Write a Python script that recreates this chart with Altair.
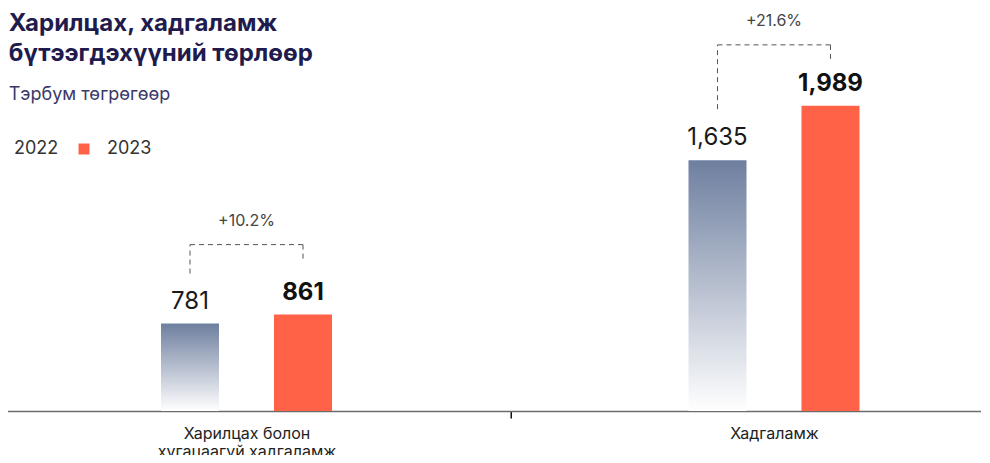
import altair as alt
import pandas as pd

categories = ["Харилцах болон\nхугацаагүй хадгаламж", "Хадгаламж"]
years = ["2022", "2023"]
values_2022 = [781, 1635]
values_2023 = [861, 1989]
growth_labels = ["+10.2%", "+21.6%"]

rows = []
for i, c in enumerate(categories):
    rows.append({"category": c, "year": years[0], "value": values_2022[i], "growth": growth_labels[i]})
    rows.append({"category": c, "year": years[1], "value": values_2023[i], "growth": growth_labels[i]})
df = pd.DataFrame(rows)

FONT = "Inter"
C2022 = "#7282a1"
C2023 = "#ff6246"
gradient = alt.Gradient(
    gradient="linear",
    stops=[alt.GradientStop(color="#6e7f9f", offset=0), alt.GradientStop(color="#ffffff", offset=1)],
    x1=0, x2=0, y1=0, y2=1,
)

x_scale = alt.Scale(domain=categories, paddingInner=0.4616, paddingOuter=0.2308)
xo_scale = alt.Scale(domain=years, paddingInner=0.4867, paddingOuter=0.5)
x_axis = alt.Axis(
    title=None, labelAngle=0, labelExpr="split(datum.label, '\\n')", orient="bottom",
    labelFontSize=16, labelColor="#222222", labelFont=FONT, labelLineHeight=18,
    labelBaseline="middle", labelPadding=15, labelLimit=0, tickSize=7, tickColor="#111111",
    tickWidth=1.5, tickOffset=-263.75, labelOffset=263.75, grid=False,
    domainColor="#6b6b6b", domainWidth=1.5, labelOverlap=False, labelBound=False,
)


def group(idx, dmax, top_off, right_off, left_off, legend=False):
    base = alt.Chart(df).transform_filter(alt.datum.category == categories[idx]).transform_joinaggregate(
        vmax="max(value)", groupby=["category"]
    )
    X = alt.X("category:N", scale=x_scale, axis=x_axis)
    XO = alt.XOffset("year:N", scale=xo_scale)
    Y = alt.Y("value:Q", scale=alt.Scale(domain=[0, dmax]), axis=None)
    b22 = base.transform_filter(alt.datum.year == "2022")
    b23 = base.transform_filter(alt.datum.year == "2023")
    dash = dict(strokeDash=[5, 4], color="#555555", strokeWidth=1)
    layers = [
        b22.mark_bar(color=gradient).encode(x=X, xOffset=XO, y=Y),
        b23.mark_bar(color=C2023).encode(x=X, xOffset=XO, y=Y),
        b22.mark_text(dy=-15, fontSize=24, font=FONT, color="#1a1a1a", baseline="alphabetic").encode(
            x=X, xOffset=XO, y=Y, text=alt.Text("value:Q", format=",")),
        b23.mark_text(dy=-15, fontSize=24, font=FONT, fontWeight="bold", color="#111111", baseline="alphabetic").encode(
            x=X, xOffset=XO, y=Y, text=alt.Text("value:Q", format=",")),
        b22.mark_rule(yOffset=left_off, y2Offset=top_off, **dash).encode(
            x=X, xOffset=XO, y=Y, y2="vmax:Q"),
        b23.mark_rule(yOffset=right_off, y2Offset=top_off, **dash).encode(
            x=X, xOffset=XO, y=Y, y2="vmax:Q"),
        base.mark_line(yOffset=top_off, **dash).encode(
            x=X, xOffset=XO, y=alt.Y("vmax:Q", scale=alt.Scale(domain=[0, dmax]), axis=None)),
        b23.mark_text(dy=top_off - 19, fontSize=16, font=FONT, color="#444444", baseline="alphabetic").encode(
            x=X, y=Y, text="growth:N"),
    ]
    if legend:
        layers.append(
            base.mark_square(opacity=0).encode(
                x=X, xOffset=XO, y=Y,
                color=alt.Color("year:N", scale=alt.Scale(domain=years, range=[C2022, C2023]),
                                legend=alt.Legend(
                                    title=None, orient="none", direction="horizontal",
                                    legendX=-0.75, legendY=132, symbolType="square", symbolSize=121,
                                    symbolOpacity=1, symbolStrokeWidth=0, labelFontSize=18,
                                    labelFont=FONT, labelColor="#333333", labelOffset=14,
                                    columnPadding=16, padding=0,
                                )),
            )
        )
    return alt.layer(*layers)


g1 = group(0, 3600, -70, -56, -50, legend=True)
g2 = group(1, 2627, -61, -47, -51)

chart = (
    alt.layer(g1, g2)
    .resolve_scale(y="independent")
    .resolve_axis(x="shared")
    .properties(
        width=1055,
        height=403,
        autosize="none",
        view=alt.ViewBackground(stroke="transparent", strokeWidth=0, strokeOpacity=0),
        padding={"left": -25.25, "right": -56.75, "top": 0, "bottom": 44},
        title=alt.TitleParams(
            text=["Харилцах, хадгаламж", "бүтээгдэхүүний төрлөөр"],
            subtitle="Тэрбум төгрөгөөр",
            anchor="start", frame="group", orient="top", offset=-96, dx=26,
            font=FONT, fontSize=24, fontWeight="bold", color="#1f1c4d", lineHeight=30,
            subtitleFont=FONT, subtitleFontSize=18, subtitleColor="#3b3868", subtitlePadding=20,
        ),
    )
    .configure_view(stroke="transparent", strokeWidth=0, strokeOpacity=0)
    .configure_axis(grid=False)
    .configure_axisTop(domain=False, ticks=False, labels=False, grid=False)
    .configure_axisLeft(domain=False, ticks=False, labels=False, grid=False)
    .configure_axisRight(domain=False, ticks=False, labels=False, grid=False)
    .configure(font=FONT)
)

chart.save("out.html", embed_options={"renderer": "svg", "actions": False})
